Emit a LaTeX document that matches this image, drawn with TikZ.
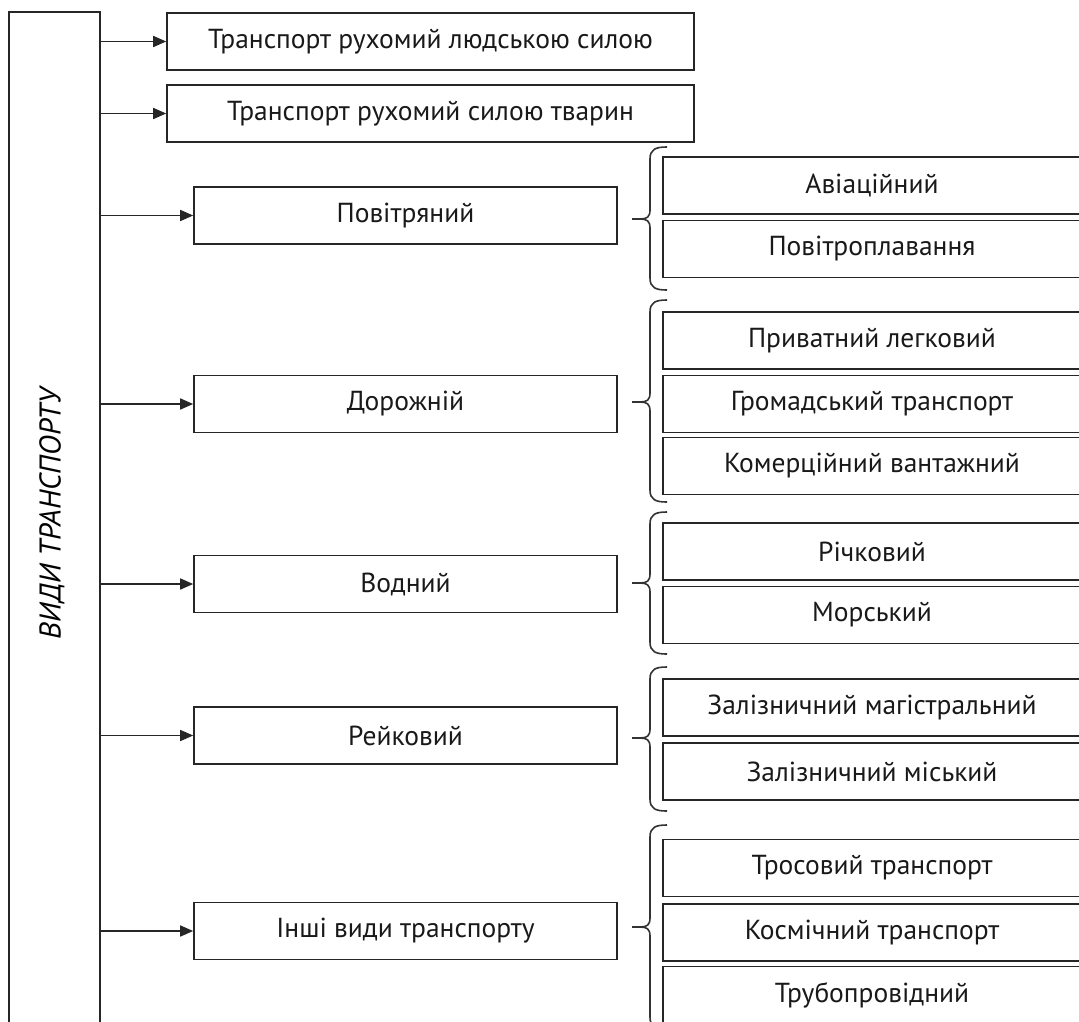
\documentclass[tikz,border=0pt]{standalone}
\usepackage{fontspec}
\setmainfont{PT Sans}
\usetikzlibrary{arrows.meta}
\newcommand\drawbrace[3]{%
  \draw[brc] (667,#1) .. controls (656,#1) and (650,#1+2) .. (650,#1+12)
    -- (650,#2-9) .. controls (650,#2-2) and (647,#2) .. (640,#2) -- (632,#2);
  \draw[brc] (632,#2) -- (640,#2) .. controls (647,#2) and (650,#2+2) .. (650,#2+9)
    -- (650,#3-12) .. controls (650,#3-2) and (656,#3) .. (667,#3);}
\begin{document}
\begin{tikzpicture}[x=1pt,y=-1pt,
  box/.style={draw=black!85, line width=1.6pt, minimum height=57pt, inner sep=0pt,
    font=\fontsize{27.5}{30}\selectfont, text=black!90},
  topbox/.style={box, minimum width=527pt},
  midbox/.style={box, minimum width=423pt},
  subbox/.style={box, minimum width=418pt},
  arr/.style={draw=black!85, line width=1.6pt, -{Triangle[length=13pt,width=11pt]}},
  brc/.style={draw=black!80, line width=1.6pt}]
\useasboundingbox (0,0) rectangle (1079,1021);
\clip (0,0) rectangle (1079,1021);
\node[draw=black!85, line width=1.6pt, minimum width=91pt, minimum height=1018pt, inner sep=0pt] (root) at (54.5,521) {};
\node[rotate=90, font=\fontsize{30}{33}\selectfont\itshape, text=black] (rootlabel) at (52,514) {ВИДИ ТРАНСПОРТУ};

\node[topbox] (t1) at (430.5,41.5) {Транспорт рухомий людською силою};
\node[topbox] (t2) at (430.5,113.5) {Транспорт рухомий силою тварин};
\node[midbox] (m1) at (405.5,215.5) {Повітряний};
\node[midbox] (m2) at (405.5,404) {Дорожній};
\node[midbox] (m3) at (405.5,584) {Водний};
\node[midbox] (m4) at (405.5,735.5) {Рейковий};
\node[midbox] (m5) at (405.5,931) {Інші види транспорту};

\foreach \n in {t1,t2,m1,m2,m3,m4,m5}
  \draw[arr] (root.east |- \n) -- (\n.west);

\node[subbox] (s11) at (872,185.5) {Авіаційний};
\node[subbox] (s12) at (872,249) {Повітроплавання};
\node[subbox] (s21) at (872,340.5) {Приватний легковий};
\node[subbox] (s22) at (872,404) {Громадський транспорт};
\node[subbox] (s23) at (872,466) {Комерційний вантажний};
\node[subbox] (s31) at (872,551.5) {Річковий};
\node[subbox] (s32) at (872,615) {Морський};
\node[subbox] (s41) at (872,707.5) {Залізничний магістральний};
\node[subbox] (s42) at (872,771.5) {Залізничний міський};
\node[subbox] (s51) at (872,868) {Тросовий транспорт};
\node[subbox] (s52) at (872,932.5) {Космічний транспорт};
\node[subbox] (s53) at (872,995) {Трубопровідний};

\drawbrace{147}{219}{290}
\drawbrace{300}{402}{502}
\drawbrace{512}{583}{654}
\drawbrace{667}{738}{811}
\drawbrace{825}{927}{1029}
\end{tikzpicture}
\end{document}
